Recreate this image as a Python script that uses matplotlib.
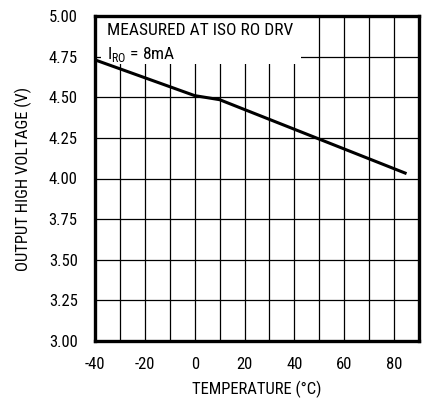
import matplotlib
matplotlib.use("Agg")
import matplotlib.pyplot as plt
from matplotlib.ticker import MultipleLocator
from matplotlib.patches import Rectangle

temperature = [-40, 0, 10, 85]
voltage = [4.73, 4.51, 4.485, 4.03]
xticks = [-40, -20, 0, 20, 40, 60, 80]
yticks = [3.00, 3.25, 3.50, 3.75, 4.00, 4.25, 4.50, 4.75, 5.00]

FONT = ['Roboto Condensed', 'DejaVu Sans']
plt.rcParams['font.family'] = FONT
plt.rcParams['axes.unicode_minus'] = False
plt.rcParams['mathtext.fontset'] = 'custom'
plt.rcParams['mathtext.rm'] = 'Roboto Condensed'

fig = plt.figure(figsize=(4.27, 4.0), dpi=100)
ax = fig.add_axes([95/427, 1-341/400, (419-95)/427, (341-16)/400])

ax.set_xlim(-40, 90)
ax.set_ylim(3.0, 5.0)
ax.xaxis.set_minor_locator(MultipleLocator(10))
ax.set_xticks(xticks)
ax.set_yticks(yticks)
ax.set_yticklabels([f"{v:.2f}" for v in yticks])
ax.grid(True, which='both', color='black', linewidth=0.9)
ax.set_axisbelow(True)
ax.tick_params(which='both', length=0, labelsize=12)
ax.tick_params(axis='y', pad=12.5)
ax.tick_params(axis='x', pad=11.5)
for s in ax.spines.values():
    s.set_linewidth(2.4)
    s.set_color('black')

# annotation box covering grid
ax.add_patch(Rectangle((-37.5, 4.705), 80.0, 0.3, facecolor='white', edgecolor='none', zorder=2))
ax.plot(temperature, voltage, color='black', linewidth=2.2, zorder=3, solid_capstyle='butt')

ax.text(-35, 4.91, "MEASURED AT ISO RO DRV", fontsize=12.5, va='center', ha='left', zorder=4)
ax.text(-35, 4.765, r"I$_{\mathregular{RO}}$ = 8mA", fontsize=12.5, va='center', ha='left', zorder=4)

ax.set_xlabel("TEMPERATURE (°C)", fontsize=12, labelpad=6)
ax.set_ylabel("OUTPUT HIGH VOLTAGE (V)", fontsize=12, labelpad=12)

fig.savefig("out.png", dpi=100)
